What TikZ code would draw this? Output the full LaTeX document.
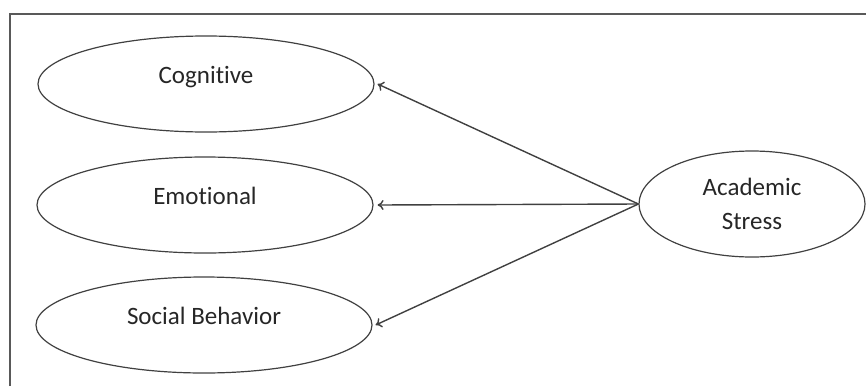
\documentclass[tikz,border=0pt]{standalone}
\usepackage{fontspec}
\setmainfont{Carlito}[Ligatures=NoCommon]
\usetikzlibrary{shapes.geometric, positioning}
\usetikzlibrary{arrows.meta}

\begin{document}
\begin{tikzpicture}[x=0.5pt,y=-0.5pt,
  factor/.style={draw=black!75,line width=0.6pt,ellipse,inner sep=0pt,
    minimum width=168pt,minimum height=48pt,text=black!85,
    font=\fontsize{12.5}{15}\selectfont},
  raised/.style={text height=9pt,text depth=9.5pt},
  path/.style={-{To[length=3pt,width=5pt]},draw=black!75,line width=0.7pt}]
\useasboundingbox (0,0) rectangle (866,386);
\draw[black!65,line width=0.9pt] (10,386) -- (10,14) -- (866,14);

\node[factor,raised] (cognitive) at (206,84) {Cognitive};
\node[factor,raised] (emotional) at (205,205) {Emotional};
\node[factor,raised] (social) at (204,325) {Social Behavior};
\node[factor,minimum width=113pt,minimum height=53pt,align=center] (stress) at (752,204) {Academic\\[2pt]Stress};

\draw[path] (stress.west) -- ([xshift=1.5pt]cognitive.east);
\draw[path] (stress.west) -- ([xshift=2pt]emotional.east);
\draw[path] (stress.west) -- ([xshift=1.5pt]social.east);
\end{tikzpicture}
\end{document}
